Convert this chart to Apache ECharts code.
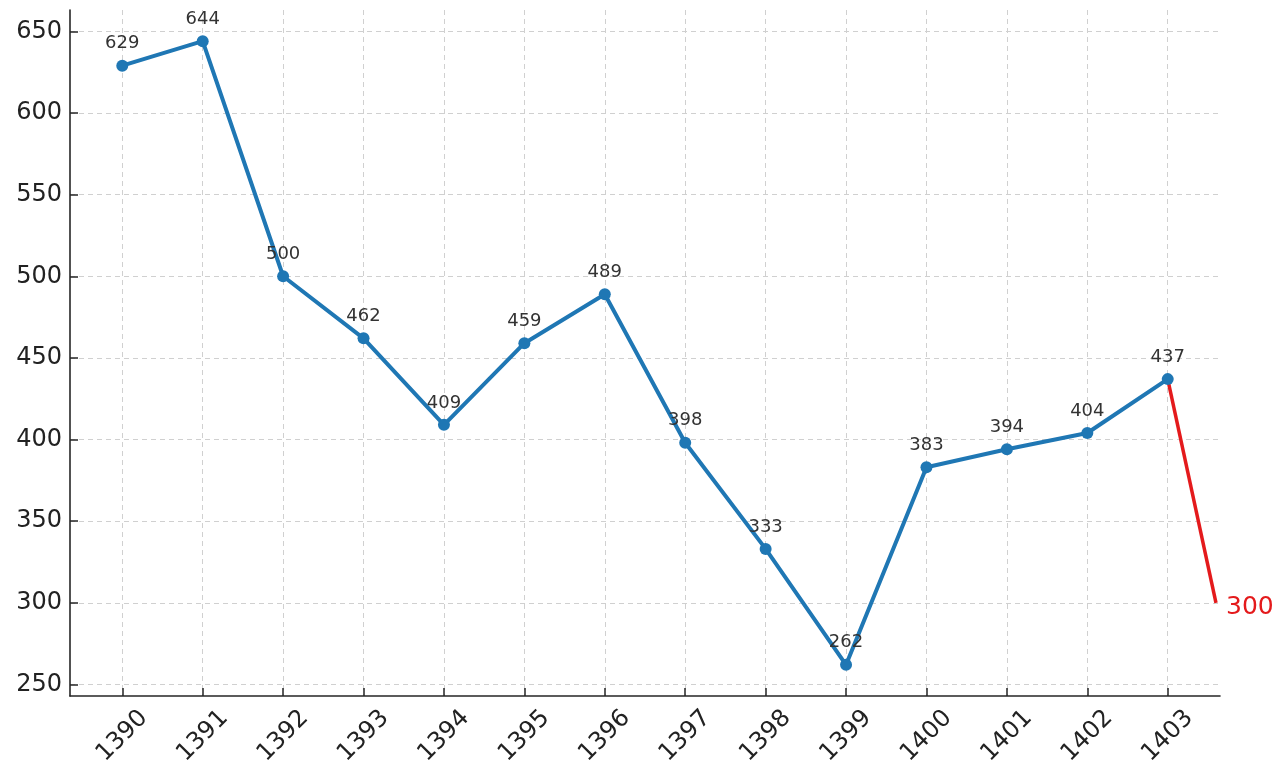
<!DOCTYPE html>
<html>
<head>
<meta charset="utf-8">
<style>
  html, body { margin: 0; padding: 0; background: #fff; }
  #chart { width: 1280px; height: 780px; }
</style>
<script src="https://cdn.jsdelivr.net/npm/echarts@6/dist/echarts.min.js"></script>
</head>
<body>
<div id="chart"></div>
<script>
// years on the x axis
const years = ['1390', '1391', '1392', '1393', '1394', '1395', '1396',
               '1397', '1398', '1399', '1400', '1401', '1402', '1403'];
// yearly values
const values = [629, 644, 500, 462, 409, 459, 489, 398, 333, 262, 383, 394, 404, 437];
// red projection from the last year
const forecastX = [13, 13.6];
const forecastY = [437, 300];
// y axis tick labels
const yTicks = [250, 300, 350, 400, 450, 500, 550, 600, 650];

const xTicks = years.map((y, i) => i);
const mainData = values.map((v, i) => [i, v]);
const forecastData = forecastX.map((x, i) => [x, forecastY[i]]);

const chart = echarts.init(document.getElementById('chart'));
const font = 'DejaVu Sans';

chart.setOption({
  animation: false,
  grid: { left: 70, right: 60, top: 10, bottom: 84 },
  xAxis: {
    type: 'value',
    min: -0.65,
    max: 13.65,
    axisLine: { show: true, onZero: false, lineStyle: { color: '#262626', width: 1.6 } },
    axisTick: { show: true, inside: true, length: 8, customValues: xTicks,
                lineStyle: { color: '#262626', width: 1.5 } },
    axisLabel: {
      customValues: xTicks,
      formatter: v => years[Math.round(v)],
      rotate: 45,
      align: 'center',
      verticalAlign: 'middle',
      margin: 40,
      fontSize: 24,
      fontFamily: font,
      color: '#222'
    },
    splitLine: { show: true, lineStyle: { color: '#d0d0d0', type: [5, 4], width: 1 } }
  },
  yAxis: {
    type: 'value',
    min: 242.9,
    max: 663.1,
    axisLine: { show: true, onZero: false, lineStyle: { color: '#262626', width: 1.6 } },
    axisTick: { show: true, inside: true, length: 8, customValues: yTicks,
                lineStyle: { color: '#262626', width: 1.5 } },
    axisLabel: {
      customValues: yTicks,
      margin: 8,
      fontSize: 24,
      fontFamily: font,
      color: '#222'
    },
    splitLine: { show: true, lineStyle: { color: '#d0d0d0', type: [5, 4], width: 1 } }
  },
  series: [
    {
      type: 'line',
      data: forecastData,
      z: 1,
      symbol: 'none',
      lineStyle: { color: '#e41a1c', width: 3.5 },
      endLabel: {
        show: true,
        distance: 10,
        offset: [0, 5],
        formatter: p => String(p.value[1]),
        fontSize: 25,
        fontFamily: font,
        color: '#e41a1c'
      }
    },
    {
      type: 'line',
      data: mainData,
      z: 3,
      symbol: 'circle',
      symbolSize: 12,
      itemStyle: { color: '#1f77b4' },
      lineStyle: { color: '#1f77b4', width: 4 },
      label: {
        show: true,
        position: 'top',
        distance: 7,
        formatter: p => String(p.value[1]),
        fontSize: 18,
        fontFamily: font,
        color: '#333',
        textBorderWidth: 0
      }
    }
  ]
});
</script>
</body>
</html>
